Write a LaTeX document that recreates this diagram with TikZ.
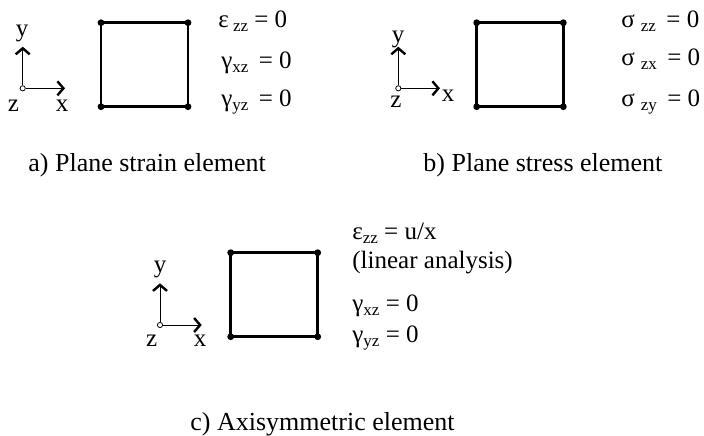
\documentclass[tikz,border=0pt]{standalone}
\usepackage{fontspec}
\setmainfont{Liberation Serif}
\usetikzlibrary{arrows.meta, positioning}

\newcommand{\lowsub}[1]{\raisebox{-0.35ex}{\fontsize{8.5}{9}\selectfont #1}}

\begin{document}
\begin{tikzpicture}[x=0.5pt, y=-0.5pt,
  every node/.style={font=\fontsize{12.5}{15}\selectfont, inner sep=0pt},
  elem/.style={line width=1.3pt},
  axis/.style={line width=0.5pt, -{Straight Barb[length=3pt, width=7pt, line width=1.2pt]}},
  origin/.style={circle, draw, fill=white, line width=0.4pt, minimum size=2.6pt, inner sep=0pt},
  lab/.style={anchor=base},
  eqn/.style={anchor=base west},
  caption/.style={anchor=base west, font=\fontsize{13}{15}\selectfont}]

\useasboundingbox (0,0) rectangle (704,435);

% a) plane strain
\coordinate (a-sw) at (101,106.7);
\coordinate (a-ne) at (188,22.7);
\draw[elem] (a-sw) rectangle (a-ne);
\fill (a-sw) circle[radius=1.7pt] (a-ne) circle[radius=1.7pt]
  (a-sw -| a-ne) circle[radius=1.7pt] (a-ne -| a-sw) circle[radius=1.7pt];
\node[origin] (a-o) at (22.7,88.3) {};
\coordinate (a-ytip) at (22.7,46.7);
\coordinate (a-xtip) at (65,88.3);
\draw[axis] (a-o) -- (a-ytip);
\draw[axis] (a-o) -- (a-xtip);
\node[lab] (a-y) at (22,36.7) {y};
\node[lab] (a-z) at (13.3,111.7) {z};
\node[lab] (a-x) at (62,111.7) {x};
\node[eqn] (a-ezz) at (218,27) {ε\,\lowsub{zz} = 0};
\node[eqn] (a-gxz) at (221,68) {γ\lowsub{xz}\, = 0};
\node[eqn] (a-gyz) at (221,106) {γ\lowsub{yz}\, = 0};
\node[caption] (a-cap) at (28,171) {a) Plane strain element};

% b) plane stress
\coordinate (b-sw) at (476.7,106.7);
\coordinate (b-ne) at (563.3,22.7);
\draw[elem] (b-sw) rectangle (b-ne);
\fill (b-sw) circle[radius=1.7pt] (b-ne) circle[radius=1.7pt]
  (b-sw -| b-ne) circle[radius=1.7pt] (b-ne -| b-sw) circle[radius=1.7pt];
\node[origin] (b-o) at (398.3,88.3) {};
\coordinate (b-ytip) at (398.3,46.7);
\coordinate (b-xtip) at (440,88.3);
\draw[axis] (b-o) -- (b-ytip);
\draw[axis] (b-o) -- (b-xtip);
\node[lab] (b-y) at (398,42) {y};
\node[lab] (b-z) at (396,107) {z};
\node[lab, anchor=base west] (b-x) at (441.5,101.7) {x};
\node[eqn] (b-szz) at (621,27) {σ\hspace{3pt}\lowsub{zz}\, = 0};
\node[eqn] (b-szx) at (621,65) {σ\hspace{3pt}\lowsub{zx}\, = 0};
\node[eqn] (b-szy) at (621,106) {σ\hspace{3pt}\lowsub{zy}\, = 0};
\node[caption] (b-cap) at (423,171) {b) Plane stress element};

% c) axisymmetric
\coordinate (c-sw) at (230.7,336.7);
\coordinate (c-ne) at (317.7,252.7);
\draw[elem] (c-sw) rectangle (c-ne);
\fill (c-sw) circle[radius=1.7pt] (c-ne) circle[radius=1.7pt]
  (c-sw -| c-ne) circle[radius=1.7pt] (c-ne -| c-sw) circle[radius=1.7pt];
\node[origin] (c-o) at (160,325) {};
\coordinate (c-ytip) at (160,283.3);
\coordinate (c-xtip) at (201.7,325);
\draw[axis] (c-o) -- (c-ytip);
\draw[axis] (c-o) -- (c-xtip);
\node[lab] (c-y) at (160,272.7) {y};
\node[lab] (c-z) at (151.7,346.7) {z};
\node[lab] (c-x) at (200,346.7) {x};
\node[eqn] (c-ezz) at (352,239) {ε\lowsub{zz} = u/x};
\node[eqn] (c-lin) at (352,268) {(linear analysis)};
\node[eqn] (c-gxz) at (352,311) {γ\lowsub{xz} = 0};
\node[eqn] (c-gyz) at (352,342) {γ\lowsub{yz} = 0};
\node[caption] (c-cap) at (190,430) {c) Axisymmetric element};

\end{tikzpicture}
\end{document}
